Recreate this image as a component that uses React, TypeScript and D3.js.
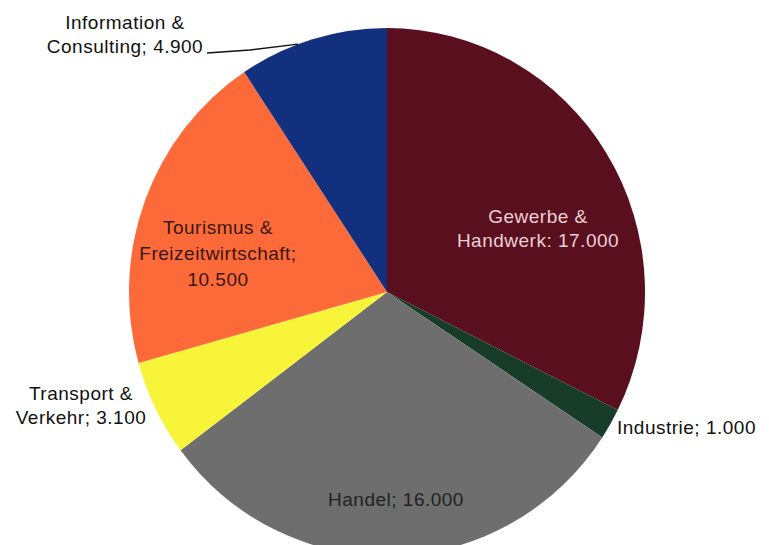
import React from "react";
import * as d3 from "d3";

const categories = [
  "Gewerbe & Handwerk",
  "Industrie",
  "Handel",
  "Transport & Verkehr",
  "Tourismus & Freizeitwirtschaft",
  "Information & Consulting",
];
const values = [17000, 1000, 16000, 3100, 10500, 4900];
const colors = ["#5a0f1f", "#173d2a", "#6e6e6e", "#f7f43a", "#fc6a3a", "#13307f"];
// label text lines (value formatted German style)
const labelLines = [
  ["Gewerbe &", "Handwerk: 17.000"],
  ["Industrie; 1.000"],
  ["Handel; 16.000"],
  ["Transport &", "Verkehr; 3.100"],
  ["Tourismus &", "Freizeitwirtschaft;", "10.500"],
  ["Information &", "Consulting; 4.900"],
];
const labelColors = ["#ead0d4", "#111", "#222", "#111", "#3a160c", "#111"];
// label anchor: x (center or start), baseline of first line
const labelPos: [number, number, string][] = [
  [538, 223, "middle"],
  [617, 434, "start"],
  [396, 506, "middle"],
  [81, 400, "middle"],
  [218, 234, "middle"],
  [125, 29, "middle"],
];

const W = 769;
const H = 545;
const cx = 387;
const cy = 292;
const ry = 264;
const rx = 258;

export default function App() {
  const pie = d3.pie<number>().sort(null).value((d) => d);
  const arcs = pie(values);
  const arc = d3.arc<d3.PieArcDatum<number>>().innerRadius(0).outerRadius(ry);

  // leader line for Information & Consulting
  const info = arcs[5];
  const la = info.startAngle + (info.endAngle - info.startAngle) * 0.4;
  const ex = cx + Math.sin(la) * rx;
  const ey = cy - Math.cos(la) * ry;
  const leader = d3.line()([
    [207, 53],
    [250, 50],
    [ex, ey],
  ]);

  return (
    <svg
      width={W}
      height={H}
      style={{ position: "absolute", left: 0, top: 0, background: "#fff" }}
      fontFamily="'Liberation Sans', Arial, sans-serif"
    >
      <rect width={W} height={H} fill="#fff" />
      <g transform={`translate(${cx},${cy}) scale(${rx / ry},1)`}>
        {arcs.map((a, i) => (
          <path key={i} d={arc(a) || ""} fill={colors[i]} />
        ))}
      </g>
      <path d={leader || ""} fill="none" stroke="#111" strokeWidth={1.3} />
      {labelLines.map((lines, i) => (
        <text
          key={i}
          x={labelPos[i][0]}
          y={labelPos[i][1]}
          textAnchor={labelPos[i][2] as any}
          fill={labelColors[i]}
          fontSize={19}
          letterSpacing={0.5}
        >
          {lines.map((l, j) => (
            <tspan key={j} x={labelPos[i][0]} dy={j === 0 ? 0 : i === 4 ? 26 : 24}>
              {l}
            </tspan>
          ))}
        </text>
      ))}
    </svg>
  );
}
